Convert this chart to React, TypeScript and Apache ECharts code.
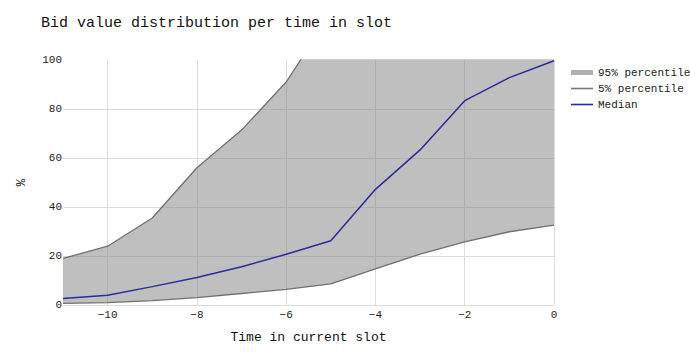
import React, { useEffect, useRef } from "react";
import * as echarts from "echarts";

const times = [-11, -10, -9, -8, -7, -6, -5, -4, -3, -2, -1, 0];
const p95 = [19, 24, 35.5, 56, 71.4, 91, 119, 140, 160, 175, 185, 195];
const p5 = [0.7, 1.0, 1.8, 3.0, 4.7, 6.4, 8.6, 14.7, 20.8, 25.8, 29.9, 32.6];
const median = [2.7, 4.0, 7.5, 11.2, 15.6, 20.7, 26.2, 47.2, 63.3, 83.4, 92.8, 99.7];

const FONT = "'Liberation Mono', 'DejaVu Sans Mono', monospace";

export default function App() {
  const ref = useRef<HTMLDivElement>(null);
  useEffect(() => {
    if (!ref.current) return;
    const chart = echarts.init(ref.current, undefined, { renderer: "svg" });
    const even = (_i: number, v: string) => Number(v) % 2 === 0;
    chart.setOption({
      animation: false,
      backgroundColor: "#ffffff",
      textStyle: { fontFamily: FONT },
      title: {
        text: "Bid value distribution per time in slot",
        left: 36,
        top: 11,
        textStyle: { fontFamily: FONT, fontSize: 15, fontWeight: "normal", color: "#111" },
      },
      legend: {
        orient: "vertical",
        left: 566,
        top: 62,
        itemWidth: 22,
        itemHeight: 6,
        itemGap: 5,
        textStyle: { fontFamily: FONT, fontSize: 11, color: "#222" },
        data: [
          {
            name: "95% percentile",
            icon: "path://M0,0H22V1.2H0ZM0,1.2H22V5H0Z",
            itemStyle: { color: "#b0b0b0" },
          },
          { name: "5% percentile", icon: "path://M0,0H22V1.6H0Z", itemStyle: { color: "#777777" } },
          { name: "Median", icon: "path://M0,0H22V1.6H0Z", itemStyle: { color: "#2b2b9a" } },
        ],
      },
      grid: { left: 63, right: 136, top: 60, bottom: 50 },
      xAxis: {
        type: "category",
        data: times.map(String),
        boundaryGap: false,
        name: "Time in current slot",
        nameLocation: "middle",
        nameGap: 26,
        nameTextStyle: { fontFamily: FONT, fontSize: 13, color: "#111" },
        axisLine: { show: false },
        axisTick: { show: false },
        axisLabel: {
          interval: even,
          fontFamily: FONT,
          fontSize: 11,
          color: "#222",
          margin: 4,
          formatter: (v: string) => v.replace("-", "\u2212"),
        },
        splitLine: { show: true, interval: even, lineStyle: { color: "#dcdcdc", width: 1 } },
      },
      yAxis: {
        type: "value",
        min: 0,
        max: 100,
        interval: 20,
        name: "%",
        nameLocation: "middle",
        nameGap: 35,
        nameTextStyle: { fontFamily: FONT, fontSize: 13, color: "#111" },
        axisLine: { show: false },
        axisTick: { show: false },
        axisLabel: { fontFamily: FONT, fontSize: 11, color: "#222", margin: 1 },
        splitLine: { show: true, showMaxLine: false, lineStyle: { color: "#dcdcdc", width: 1 } },
      },
      series: [
        {
          name: "5% percentile",
          type: "line",
          stack: "band",
          data: p5,
          showSymbol: false,
          symbol: "none",
          lineStyle: { color: "#707070", width: 1.3 },
          itemStyle: { color: "#777777" },
          z: 3,
        },
        {
          name: "95% percentile",
          type: "line",
          stack: "band",
          data: p95.map((v, i) => v - p5[i]),
          showSymbol: false,
          symbol: "none",
          lineStyle: { color: "#707070", width: 1.3 },
          areaStyle: { color: "rgba(128,128,128,0.5)", opacity: 1 },
          itemStyle: { color: "#b0b0b0" },
          z: 2,
        },
        {
          name: "Median",
          type: "line",
          data: median,
          showSymbol: false,
          symbol: "none",
          lineStyle: { color: "#2b2b9a", width: 1.5 },
          itemStyle: { color: "#2b2b9a" },
          z: 4,
        },
      ],
    });
    return () => chart.dispose();
  }, []);
  return <div ref={ref} style={{ width: 690, height: 355, position: "absolute", left: 0, top: 0 }} />;
}
